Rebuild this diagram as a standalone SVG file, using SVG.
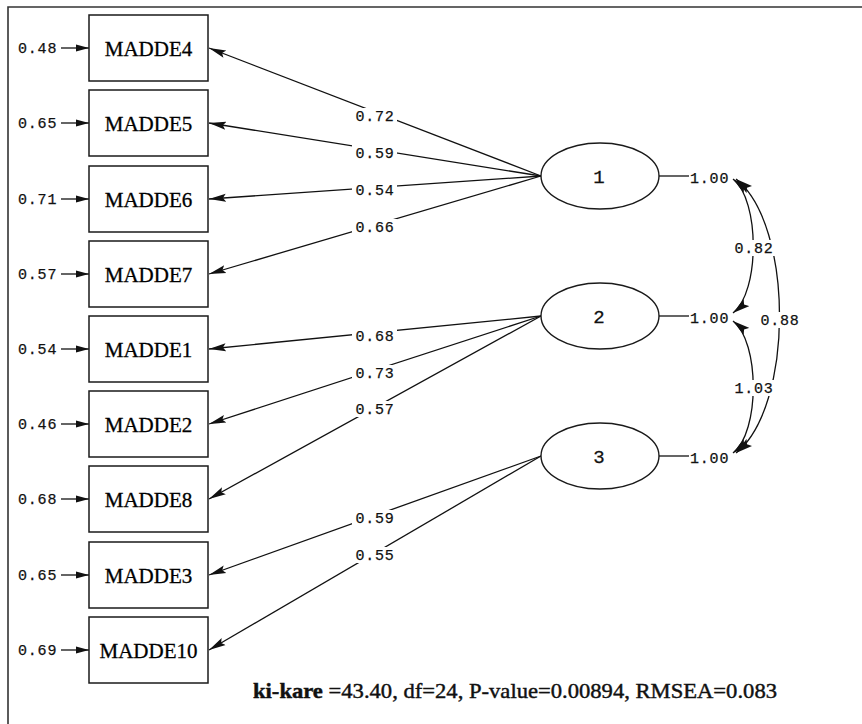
<svg xmlns="http://www.w3.org/2000/svg" width="862" height="724" viewBox="0 0 862 724">
<defs>
<style>
.box{fill:#fff;stroke:#1a1a1a;stroke-width:1.5}
.ell{fill:#fff;stroke:#1a1a1a;stroke-width:1.4}
.bt{font-family:"Liberation Serif","Times New Roman",serif;font-size:21px;fill:#000;text-anchor:middle;stroke:#000;stroke-width:0.3}
.mono{font-family:"Liberation Mono","Courier New",monospace;font-size:15px;fill:#111;letter-spacing:0.8px;stroke:#111;stroke-width:0.25}
.lab{text-anchor:middle}
.gap{fill:#fff}
.fac{font-family:"Liberation Mono","Courier New",monospace;font-size:19px;fill:#111;text-anchor:middle;stroke:#111;stroke-width:0.3}
.ln{fill:none;stroke:#111;stroke-width:1.3}
.arr{marker-end:url(#ah)}
.cv{fill:none;stroke:#111;stroke-width:1.3;marker-start:url(#ah2);marker-end:url(#ah2)}
</style>
<marker id="ah" viewBox="0 -5 18 10" refX="17" refY="0" markerWidth="18" markerHeight="10" markerUnits="userSpaceOnUse" orient="auto">
<path d="M0,-4 L17,0 L0,4 L3,0 Z" fill="#111"/>
</marker>
<marker id="ahe" viewBox="0 -5 14 10" refX="13" refY="0" markerWidth="14" markerHeight="10" markerUnits="userSpaceOnUse" orient="auto">
<path d="M0,-3.5 L13,0 L0,3.5 Z" fill="#111"/>
</marker>
<marker id="ah2" viewBox="0 -5 18 10" refX="17" refY="0" markerWidth="18" markerHeight="10" markerUnits="userSpaceOnUse" orient="auto-start-reverse">
<path d="M0,-4.5 L17,0 L0,4.5 L3,0 Z" fill="#111"/>
</marker>
</defs>
<rect width="862" height="724" fill="#fff"/>
<path d="M8,724 L8,7 L862,7" fill="none" stroke="#333" stroke-width="1.6"/>

<g id="connectors">
<!-- error arrows -->
<g class="ln" style="marker-end:url(#ahe)">
<line x1="61" y1="48" x2="89" y2="48"/>
<line x1="61" y1="123" x2="89" y2="123"/>
<line x1="61" y1="199" x2="89" y2="199"/>
<line x1="61" y1="274" x2="89" y2="274"/>
<line x1="61" y1="349" x2="89" y2="349"/>
<line x1="61" y1="424" x2="89" y2="424"/>
<line x1="61" y1="499" x2="89" y2="499"/>
<line x1="61" y1="575" x2="89" y2="575"/>
<line x1="61" y1="650" x2="89" y2="650"/>
</g>
<!-- loadings -->
<g class="ln arr">
<line x1="541" y1="176" x2="209" y2="48"/>
<line x1="541" y1="176" x2="209" y2="123"/>
<line x1="541" y1="176" x2="209" y2="199"/>
<line x1="541" y1="176" x2="209" y2="274"/>
<line x1="541" y1="316" x2="209" y2="349"/>
<line x1="541" y1="316" x2="209" y2="424"/>
<line x1="541" y1="316" x2="209" y2="499"/>
<line x1="541" y1="456" x2="209" y2="575"/>
<line x1="541" y1="456" x2="209" y2="650"/>
</g>
<!-- variances -->
<g class="ln">
<line x1="659" y1="176" x2="689" y2="176"/>
<line x1="659" y1="316" x2="689" y2="316"/>
<line x1="659" y1="456" x2="689" y2="456"/>
</g>
<!-- covariances -->
<path class="cv" d="M733,179 C760,200 760,292 733,313"/>
<path class="cv" d="M733,321 C760,342 760,432 733,453"/>
<path class="cv" d="M736,179 C794,225 794,407 736,453"/>

<!-- label gaps -->
<g class="gap">
<rect x="352" y="108" width="45" height="16"/>
<rect x="352" y="145" width="45" height="16"/>
<rect x="352" y="182" width="45" height="16"/>
<rect x="352" y="219" width="45" height="16"/>
<rect x="352" y="328" width="45" height="16"/>
<rect x="352" y="365" width="45" height="16"/>
<rect x="352" y="401" width="45" height="16"/>
<rect x="352" y="510" width="45" height="16"/>
<rect x="352" y="547" width="45" height="16"/>
<rect x="732" y="240" width="43" height="16"/>
<rect x="732" y="380" width="43" height="16"/>
<rect x="758" y="312" width="43" height="16"/>
</g>

<g class="mono">
<text x="18" y="53">0.48</text>
<text x="18" y="128">0.65</text>
<text x="18" y="204">0.71</text>
<text x="18" y="279">0.57</text>
<text x="18" y="354">0.54</text>
<text x="18" y="429">0.46</text>
<text x="18" y="504">0.68</text>
<text x="18" y="580">0.65</text>
<text x="18" y="655">0.69</text>
</g>
<g class="mono lab">
<text x="375" y="121">0.72</text>
<text x="375" y="158">0.59</text>
<text x="375" y="195">0.54</text>
<text x="375" y="232">0.66</text>
<text x="375" y="341">0.68</text>
<text x="375" y="378">0.73</text>
<text x="375" y="414">0.57</text>
<text x="375" y="523">0.59</text>
<text x="375" y="560">0.55</text>
<text x="754" y="253">0.82</text>
<text x="754" y="393">1.03</text>
<text x="780" y="325">0.88</text>
</g>
<g class="mono">
<text x="690" y="183">1.00</text>
<text x="690" y="323">1.00</text>
<text x="690" y="463">1.00</text>
</g>
</g>

<g id="MADDE4"><rect class="box" x="89" y="15" width="119" height="66"/><text class="bt" x="148.5" y="56">MADDE4</text></g>
<g id="MADDE5"><rect class="box" x="89" y="90" width="119" height="66"/><text class="bt" x="148.5" y="131">MADDE5</text></g>
<g id="MADDE6"><rect class="box" x="89" y="166" width="119" height="66"/><text class="bt" x="148.5" y="207">MADDE6</text></g>
<g id="MADDE7"><rect class="box" x="89" y="241" width="119" height="66"/><text class="bt" x="148.5" y="282">MADDE7</text></g>
<g id="MADDE1"><rect class="box" x="89" y="316" width="119" height="66"/><text class="bt" x="148.5" y="357">MADDE1</text></g>
<g id="MADDE2"><rect class="box" x="89" y="391" width="119" height="66"/><text class="bt" x="148.5" y="432">MADDE2</text></g>
<g id="MADDE8"><rect class="box" x="89" y="466" width="119" height="66"/><text class="bt" x="148.5" y="507">MADDE8</text></g>
<g id="MADDE3"><rect class="box" x="89" y="542" width="119" height="66"/><text class="bt" x="148.5" y="583">MADDE3</text></g>
<g id="MADDE10"><rect class="box" x="89" y="617" width="119" height="66"/><text class="bt" x="148.5" y="658">MADDE10</text></g>

<g id="F1"><ellipse class="ell" cx="600" cy="176" rx="59" ry="33"/><text class="fac" x="599" y="183">1</text></g>
<g id="F2"><ellipse class="ell" cx="600" cy="316" rx="59" ry="33"/><text class="fac" x="599" y="323">2</text></g>
<g id="F3"><ellipse class="ell" cx="600" cy="456" rx="59" ry="33"/><text class="fac" x="599" y="463">3</text></g>

<text x="253" y="698" textLength="524" lengthAdjust="spacingAndGlyphs" style="font-family:'Liberation Serif','Times New Roman',serif;font-size:22px;fill:#111;stroke:#111;stroke-width:0.45"><tspan font-weight="bold">ki-kare</tspan> =43.40, df=24, P-value=0.00894, RMSEA=0.083</text>
</svg>
